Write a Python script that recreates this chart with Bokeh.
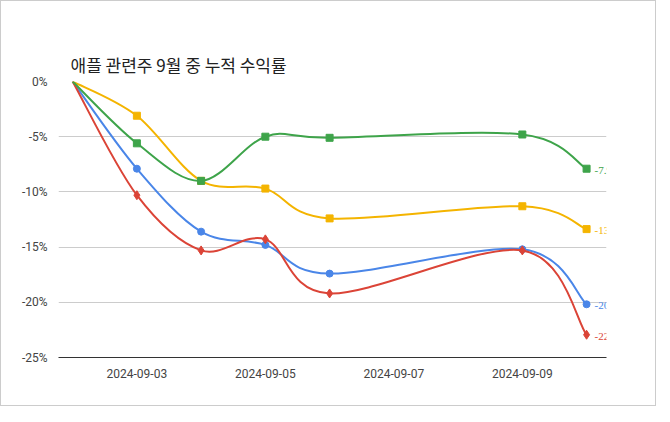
from datetime import datetime
from bokeh.plotting import figure
from bokeh.models import (Legend, LegendItem, FixedTicker, PrintfTickFormatter, Range1d,
                          LabelSet, ColumnDataSource, DatetimeTickFormatter)
from bokeh.layouts import column
from bokeh.embed import file_html
from bokeh.resources import INLINE

dates = ["2024-09-02", "2024-09-03", "2024-09-04", "2024-09-05", "2024-09-06", "2024-09-09", "2024-09-10"]
names = ["LG이노텍", "비에이치", "자화전자", "LG디스플레이"]
lg_innotek = [0, -7.9, -13.6, -14.8, -17.4, -15.2, -20.18]
bh = [0, -10.3, -15.3, -14.3, -19.2, -15.3, -22.94]
jahwa = [0, -3.1, -9.0, -9.7, -12.4, -11.3, -13.37]
lg_display = [0, -5.6, -9.0, -5.0, -5.1, -4.8, -7.90]
end_labels = ["-20.18%", "-22.94%", "-13.37%", "-7.90%"]
tick_dates = ["2024-09-03", "2024-09-05", "2024-09-07", "2024-09-09"]
y_ticks = [0, -5, -10, -15, -20, -25]
colors = ["#4a86e8", "#db4437", "#f4b400", "#3ea44a"]
markers = ["circle", "diamond", "square", "square"]

def ms(d):
    return datetime.strptime(d, "%Y-%m-%d").timestamp() * 1000

DAY = 86400000
xs = [ms(d) for d in dates]

p = figure(width=654, height=404, output_backend="svg", toolbar_location=None,
           x_range=Range1d(xs[0] - 0.22 * DAY, xs[-1] + 0.31 * DAY),
           y_range=Range1d(-25, 0), min_border_left=57, min_border_right=49,
           min_border_bottom=48, min_border_top=80)
p.title.text = "애플 관련주 9월 중 누적 수익률"
p.title.text_font = "Noto Sans CJK KR"
p.title.text_font_size = "17px"
p.title.text_font_style = "normal"
p.title.text_color = "#222222"
p.title.offset = 12
p.outline_line_color = None
p.xgrid.grid_line_color = None
p.ygrid.grid_line_color = "#cccccc"
p.xaxis.ticker = FixedTicker(ticks=[ms(d) for d in tick_dates])
p.xaxis.formatter = DatetimeTickFormatter(days="%Y-%m-%d", months="%Y-%m-%d", hours="%Y-%m-%d")
p.yaxis.ticker = FixedTicker(ticks=y_ticks)
p.yaxis.formatter = PrintfTickFormatter(format="%d%%")
for ax in (p.xaxis, p.yaxis):
    ax.axis_line_color = None
    ax.major_tick_line_color = None
    ax.minor_tick_line_color = None
    ax.major_label_text_font = "Roboto"
    ax.major_label_text_font_size = "12px"
    ax.major_label_text_color = "#444444"
p.xaxis.axis_line_color = "#333333"

items = []
series = [lg_innotek, bh, jahwa, lg_display]
for name, ys, c, m, lab in zip(names, series, colors, markers, end_labels):
    n = len(xs)
    x0s, y0s, x1s, y1s, cx0, cy0, cx1, cy1 = [], [], [], [], [], [], [], []
    for i in range(n - 1):
        pi = max(i - 1, 0); nx = min(i + 2, n - 1)
        x0s.append(xs[i]); y0s.append(ys[i]); x1s.append(xs[i + 1]); y1s.append(ys[i + 1])
        cx0.append(xs[i] + (xs[i + 1] - xs[pi]) / 6); cy0.append(ys[i] + (ys[i + 1] - ys[pi]) / 6)
        cx1.append(xs[i + 1] - (xs[nx] - xs[i]) / 6); cy1.append(ys[i + 1] - (ys[nx] - ys[i]) / 6)
    p.bezier(x0=x0s, y0=y0s, x1=x1s, y1=y1s, cx0=cx0, cy0=cy0, cx1=cx1, cy1=cy1,
             line_color=c, line_width=2)
    r = p.scatter(xs[1:], ys[1:], marker=m, size=7 if m != "diamond" else 9, color=c)
    items.append(LegendItem(label=name, renderers=[r]))
    src = ColumnDataSource(dict(x=[xs[-1]], y=[ys[-1]], t=[lab]))
    p.add_layout(LabelSet(x="x", y="y", text="t", source=src, x_offset=8, y_offset=-7,
                          text_color=c, text_font="Roboto", text_font_size="11px"))

legend = Legend(items=items, orientation="horizontal", location=(120, 288),
                label_text_font="Noto Sans CJK KR", label_text_font_size="11px",
                label_text_color="#222222", border_line_color=None, glyph_width=12,
                spacing=12, padding=2, margin=0, label_standoff=4,
                background_fill_alpha=0)
p.add_layout(legend)

layout = column(p, styles={"border": "1px solid #cccccc"})
open("out.html", "w").write(file_html(layout, INLINE))
